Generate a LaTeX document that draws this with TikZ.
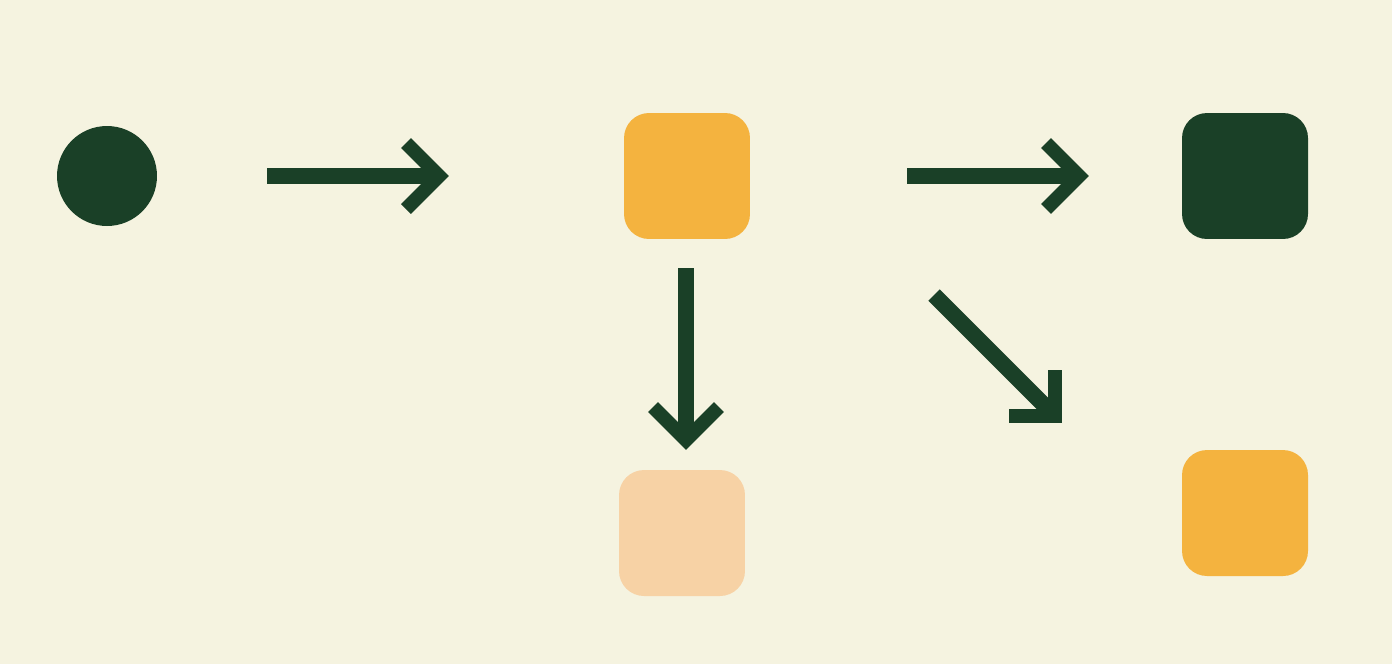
\documentclass[tikz,border=0pt]{standalone}
\usepackage{tikz}
\definecolor{bgcream}{HTML}{F5F3E0}
\definecolor{darkgreen}{HTML}{1A4027}
\definecolor{mustard}{HTML}{F4B33F}
\definecolor{peach}{HTML}{F7D2A5}
\begin{document}
\begin{tikzpicture}[x=0.02cm,y=-0.02cm]
\tikzstyle{every node}=[draw=none,inner sep=0pt]
\tikzstyle{box}=[rectangle,rounded corners=0.5cm,minimum size=2.52cm]
\tikzstyle{shaft}=[draw=darkgreen,line width=3.2mm,line cap=butt]
\tikzstyle{barb}=[draw=darkgreen,line width=2.8mm,line cap=butt,line join=miter]
\fill[bgcream] (0,0) rectangle (1392,664);
\useasboundingbox (0,0) rectangle (1392,664);
\node[circle,fill=darkgreen,minimum size=2cm](dot) at (107,176) {};
\node[box,fill=mustard](src) at (687,176) {};
\node[box,fill=peach](low) at (682,533) {};
\node[box,fill=darkgreen](dst) at (1245,176) {};
\node[box,fill=mustard](alt) at (1245,513) {};
\coordinate (a1s) at (267,176);
\coordinate (a1e) at (439,176);
\coordinate (a2s) at (907,176);
\coordinate (a2e) at (1079,176);
\coordinate (a3s) at (686,268);
\coordinate (a3e) at (686,440);
\coordinate (a4s) at (934,295);
\coordinate (a4e) at (1055,416);
\draw[shaft] (a1s) -- (a1e);
\draw[barb] (a1e) ++(-33,-33) -- (a1e) -- ++(-33,33);
\draw[shaft] (a2s) -- (a2e);
\draw[barb] (a2e) ++(-33,-33) -- (a2e) -- ++(-33,33);
\draw[shaft] (a3s) -- (a3e);
\draw[barb] (a3e) ++(-33,-33) -- (a3e) -- ++(33,-33);
\draw[shaft] (a4s) -- (a4e);
\draw[barb] (a4e) ++(0,-46) -- (a4e) -- ++(-46,0);
\end{tikzpicture}
\end{document}
